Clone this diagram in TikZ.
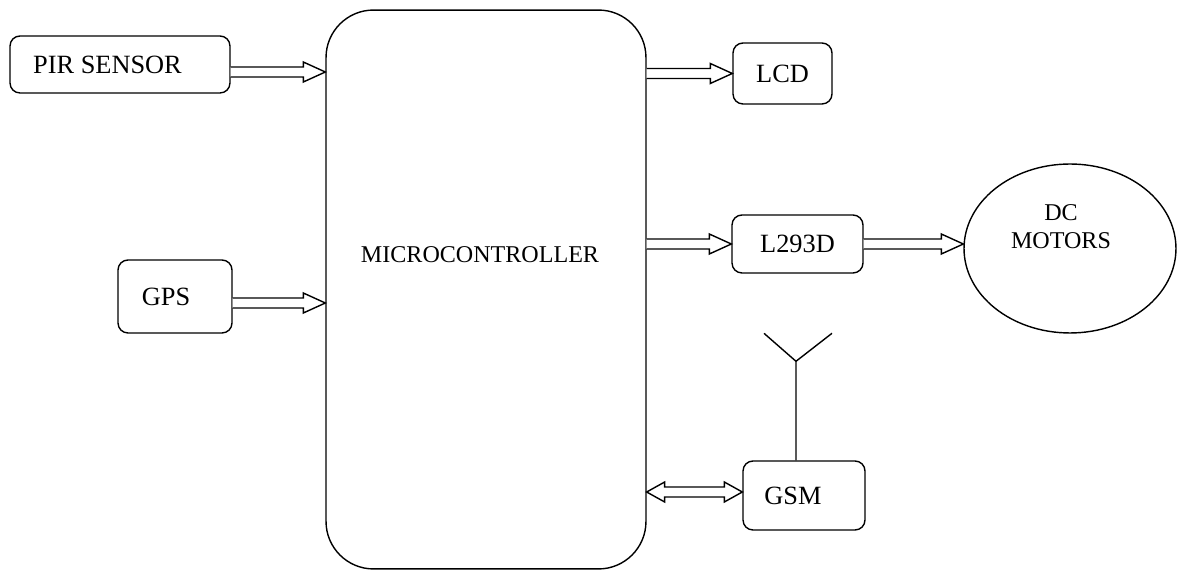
\documentclass[tikz,border=0pt]{standalone}
\usepackage{fontspec}
\setmainfont{Liberation Serif}
\usetikzlibrary{calc,shapes.geometric}

\tikzset{
  block/.style={draw, thick, rounded corners=0.2cm, font=\fontsize{15}{18}\selectfont},
  hollow/.style={draw, thick, fill=white, line join=miter},
}

% hollow horizontal arrow, tail at #1, tip at the x of #2
\newcommand{\flowarrow}[2]{%
  \draw[hollow] let \p1=(#1), \p2=(#2) in
    (\x1,\y1+0.1cm) -- (\x2-0.44cm,\y1+0.1cm) -- (\x2-0.44cm,\y1+0.2cm) -- (\x2,\y1)
    -- (\x2-0.44cm,\y1-0.2cm) -- (\x2-0.44cm,\y1-0.1cm) -- (\x1,\y1-0.1cm);}
% same, with a head at both ends
\newcommand{\dualarrow}[2]{%
  \draw[hollow] let \p1=(#1), \p2=(#2) in
    (\x1,\y1) -- (\x1+0.36cm,\y1+0.2cm) -- (\x1+0.36cm,\y1+0.1cm)
    -- (\x2-0.36cm,\y1+0.1cm) -- (\x2-0.36cm,\y1+0.2cm) -- (\x2,\y1)
    -- (\x2-0.36cm,\y1-0.2cm) -- (\x2-0.36cm,\y1-0.1cm)
    -- (\x1+0.36cm,\y1-0.1cm) -- (\x1+0.36cm,\y1-0.2cm) -- cycle;}

\begin{document}
\begin{tikzpicture}[x=0.02cm, y=-0.02cm]
  \useasboundingbox (0,0) rectangle (1181,570);

  % controller in the middle
  \node[draw, thick, rounded corners=0.95cm, minimum width=6.4cm, minimum height=11.18cm] (mcu) at (486,289.5) {};
  \node[font=\fontsize{13.7}{16}\selectfont] (mcutext) at (480,255) {MICROCONTROLLER};

  % inputs
  \node[block, minimum width=4.4cm, minimum height=1.14cm] (pir) at (120,64.5) {PIR SENSOR\kern0.5cm};
  \node[block, minimum width=2.28cm, minimum height=1.46cm] (gps) at (175,296.5) {GPS\kern0.36cm};

  % outputs
  \node[block, minimum width=1.98cm, minimum height=1.22cm] (lcd) at (782.5,73.5) {LCD};
  \node[block, minimum width=2.62cm, minimum height=1.16cm] (driver) at (797.5,244) {L293D};
  \node[draw, thick, ellipse, minimum width=4.24cm, minimum height=3.38cm] (motor) at (1070,248.5) {};
  \node[align=center, font=\fontsize{13.7}{16}\selectfont] (motortext) at (1061,227) {DC\\MOTORS};
  \node[block, minimum width=2.44cm, minimum height=1.38cm] (gsm) at (804,495.5) {GSM\kern0.44cm};

  % antenna on the GSM module
  \coordinate (mast) at ($(gsm.north)+(-8,-99)$);
  \draw[thick] (gsm.north -| mast) -- (mast) -- ++(-32,-28);
  \draw[thick] (mast) -- ++(36,-28);

  % data flow
  \flowarrow{$(pir.east)+(0,7.5)$}{mcu.west}
  \flowarrow{$(gps.east)+(0,6.5)$}{mcu.west}
  \flowarrow{mcu.east |- lcd.west}{lcd.west}
  \flowarrow{mcu.east |- driver.west}{driver.west}
  \flowarrow{driver.east}{motor.west}
  \dualarrow{$(mcu.east |- gsm.west)+(0,-3.5)$}{gsm.west}
\end{tikzpicture}
\end{document}
